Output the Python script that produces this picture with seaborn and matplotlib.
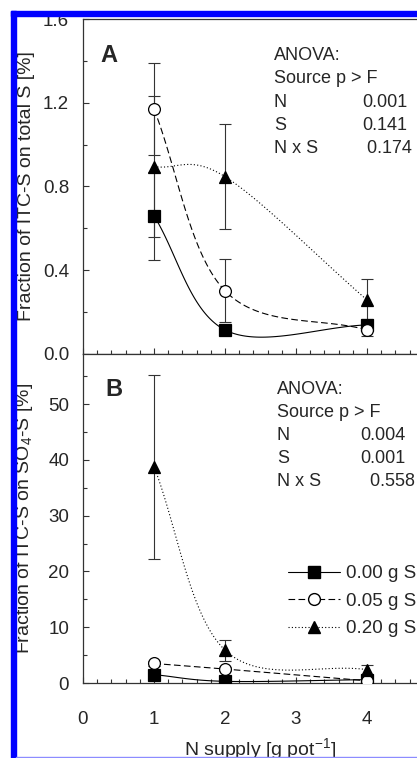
import numpy as np
import matplotlib
matplotlib.use("Agg")
import matplotlib.pyplot as plt
from matplotlib.lines import Line2D
from matplotlib.patches import Rectangle
from matplotlib.ticker import MultipleLocator, FormatStrFormatter
import seaborn as sns

# data
n_supply = [1, 2, 4]
series_labels = ["0.00 g S", "0.05 g S", "0.20 g S"]

# panel A: fraction of ITC-S on total S [%]
a_s000 = [0.66, 0.115, 0.139]
a_s000_err = [0.21, 0.02, 0.03]
a_s005 = [1.17, 0.302, 0.115]
a_s005_err = [0.22, 0.15, 0.03]
a_s020 = [0.895, 0.847, 0.258]
a_s020_err = [0.335, 0.25, 0.10]

# panel B: fraction of ITC-S on SO4-S [%]
b_s000 = [1.5, 0.3, 0.6]
b_s000_err = [0.3, 0.1, 0.1]
b_s005 = [3.5, 2.5, 0.4]
b_s005_err = [0.4, 0.3, 0.1]
b_s020 = [38.8, 5.9, 2.4]
b_s020_err = [16.5, 1.9, 0.9]

anova_rows = ["ANOVA:", "Source p > F", "N", "S", "N x S"]
anova_a = ["0.001", "0.141", " 0.174"]
anova_b = ["0.004", "0.001", "  0.558"]

sns.set_style("ticks")
plt.rcParams['font.family'] = ['Liberation Sans', 'DejaVu Sans']
plt.rcParams['mathtext.fontset'] = 'custom'
plt.rcParams['mathtext.rm'] = 'Liberation Sans'

W, H = 417, 758
fig = plt.figure(figsize=(W / 100, H / 100), dpi=100)
fig.patch.set_facecolor("white")

def px_axes(left, top, width, height):
    return fig.add_axes([left / W, 1 - (top + height) / H, width / W, height / H])

axA = px_axes(83, 19, 355, 335)
axB = px_axes(83, 354, 355, 329)

xlim = (0, 5)
ylimA = (0, 1.6)
ylimB = (0, 59)


def smooth(xs, ys, xl, yl, w, h, n=60):
    # Catmull-Rom curve in screen space, like the original spline lines
    p = np.column_stack([(np.array(xs) - xl[0]) / (xl[1] - xl[0]) * w,
                         (np.array(ys) - yl[0]) / (yl[1] - yl[0]) * h])
    m = np.zeros_like(p)
    m[0] = p[1] - p[0]
    m[-1] = p[-1] - p[-2]
    for i in range(1, len(p) - 1):
        m[i] = (p[i + 1] - p[i - 1]) / 2
    t = np.linspace(0, 1, n)[:, None]
    h00 = 2 * t**3 - 3 * t**2 + 1
    h10 = t**3 - 2 * t**2 + t
    h01 = -2 * t**3 + 3 * t**2
    h11 = t**3 - t**2
    pts = []
    for i in range(len(p) - 1):
        pts.append(h00 * p[i] + h10 * m[i] + h01 * p[i + 1] + h11 * m[i + 1])
    pts = np.vstack(pts)
    cx = pts[:, 0] / w * (xl[1] - xl[0]) + xl[0]
    cy = pts[:, 1] / h * (yl[1] - yl[0]) + yl[0]
    return cx, cy


styles = [
    dict(ls="-", marker="s", mfc="black"),
    dict(ls=(0, (6, 3)), marker="o", mfc="white"),
    dict(ls=(0, (1, 2)), marker="^", mfc="black"),
]


def draw_panel(ax, series, errs, yl, h):
    for vals, err, st in zip(series, errs, styles):
        cx, cy = smooth(n_supply, vals, xlim, yl, 355, h)
        sns.lineplot(x=cx, y=cy, ax=ax, sort=False, estimator=None,
                     color="black", lw=0.8, linestyle=st["ls"], zorder=2)
        ax.errorbar(n_supply, vals, yerr=err, fmt="none", ecolor="#333333",
                    elinewidth=0.8, capsize=4, capthick=0.8, zorder=3)
    for vals, st in zip(series, styles):
        ax.plot(n_supply, vals, ls="none", marker=st["marker"], ms=8.5,
                mfc=st["mfc"], mec="black", mew=0.9, zorder=4)
    ax.set_xlim(*xlim)
    ax.set_ylim(*yl)
    ax.xaxis.set_major_locator(MultipleLocator(1))
    ax.xaxis.set_minor_locator(MultipleLocator(0.2))
    ax.tick_params(which="both", direction="in", labelsize=13.5, width=0.8,
                   color="#333333", top=False, right=False)
    ax.tick_params(axis="y", pad=10)
    ax.tick_params(which="major", length=4.5)
    ax.tick_params(which="minor", length=3)
    for s in ax.spines.values():
        s.set_linewidth(0.9)
        s.set_color("#333333")


draw_panel(axA, [a_s000, a_s005, a_s020], [a_s000_err, a_s005_err, a_s020_err], ylimA, 335)
draw_panel(axB, [b_s000, b_s005, b_s020], [b_s000_err, b_s005_err, b_s020_err], ylimB, 329)

axA.yaxis.set_major_locator(MultipleLocator(0.4))
axA.yaxis.set_minor_locator(MultipleLocator(0.2))
axA.yaxis.set_major_formatter(FormatStrFormatter("%.1f"))
axA.tick_params(axis="x", labelbottom=False)
axB.yaxis.set_major_locator(MultipleLocator(10))
axB.yaxis.set_minor_locator(MultipleLocator(5))
axB.set_yticks([0, 10, 20, 30, 40, 50])
axB.tick_params(axis="x", pad=20)

axA.set_ylabel("Fraction of ITC-S on total S [%]", fontsize=14)
axB.set_ylabel("Fraction of ITC-S on SO$_4$-S [%]", fontsize=14)
axB.set_xlabel("N supply [g pot$^{-1}$]", fontsize=14, labelpad=6)
axA.yaxis.set_label_coords(-0.135, 0.5)
axB.yaxis.set_label_coords(-0.135, 0.5)

axA.text(0.048, 0.891, "A", transform=axA.transAxes, fontsize=17,
         fontweight="bold", va="center", ha="left")
axB.text(0.062, 0.891, "B", transform=axB.transAxes, fontsize=17,
         fontweight="bold", va="center", ha="left")

for ax, vals, x0, x1, y0, dy in [(axA, anova_a, 0.538, 0.786, 0.891, 0.0696),
                                  (axB, anova_b, 0.546, 0.780, 0.891, 0.0700)]:
    for i, row in enumerate(anova_rows):
        ax.text(x0, y0 - i * dy, row, transform=ax.transAxes, fontsize=13,
                va="center", ha="left")
    for i, v in enumerate(vals):
        ax.text(x1, y0 - (i + 2) * dy, v, transform=ax.transAxes, fontsize=13,
                va="center", ha="left")

handles = [Line2D([], [], color="black", lw=0.8, linestyle=st["ls"],
                  marker=st["marker"], ms=8.5, mfc=st["mfc"], mec="black")
           for st in styles]
axB.legend(handles, series_labels, loc="upper left",
           bbox_to_anchor=(288 / W, 1 - 565 / H), bbox_transform=fig.transFigure,
           frameon=False, fontsize=13.5, handlelength=2.75, handletextpad=0.32,
           labelspacing=0.56, borderpad=0, borderaxespad=0)

# blue frame of the cropped image
blue = "#0000ff"
fig.patches.append(Rectangle((11 / W, 0), 5 / W, 1 - 11 / H, transform=fig.transFigure,
                             color=blue, zorder=10))
fig.patches.append(Rectangle((11 / W, 1 - 16 / H), 1, 5 / H, transform=fig.transFigure,
                             color=blue, zorder=10))
fig.patches.append(Rectangle((16 / W, 0), 1, 1.2 / H, transform=fig.transFigure,
                             color="#8c8cff", zorder=10))

fig.savefig("out.png", dpi=100)
